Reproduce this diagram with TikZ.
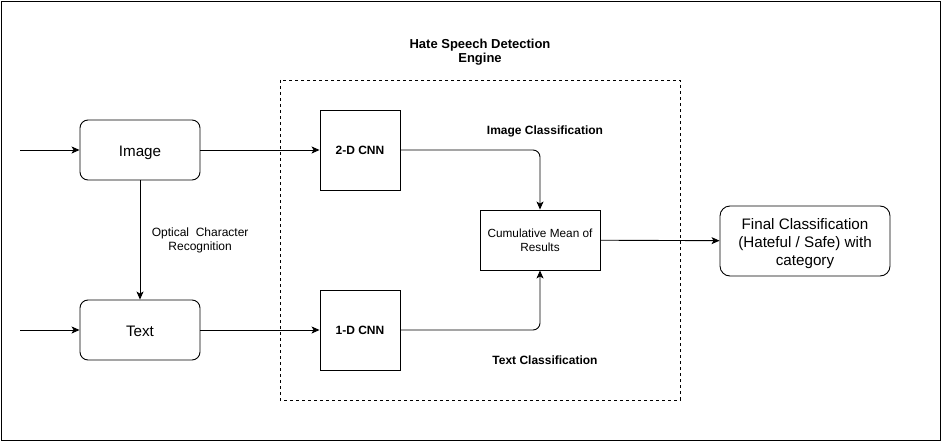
\documentclass[tikz,border=0pt]{standalone}
\usepackage{fontspec}
\setmainfont{Liberation Sans}
\usetikzlibrary{arrows.meta, positioning}

\tikzset{
  inbox/.style={draw, rounded corners=8pt, minimum width=120pt, minimum height=60pt,
    text height=15.5pt, text depth=3pt, font=\fontsize{15.2}{18}\selectfont},
  cnnbox/.style={draw, minimum width=80pt, minimum height=80pt,
    font=\fontsize{12}{14}\selectfont\bfseries},
  meanbox/.style={draw, minimum width=120pt, minimum height=60pt, align=center,
    font=\fontsize{11.8}{14}\selectfont},
  outbox/.style={draw, rounded corners=10pt, minimum width=170pt, minimum height=70pt,
    text height=53pt, align=center, font=\fontsize{15.2}{18}\selectfont},
  flow/.style={-{Stealth[length=8pt,width=7pt,inset=2pt]}, line width=0.9pt},
  lbl/.style={font=\fontsize{12}{14}\selectfont\bfseries, align=center},
}

\begin{document}
\begin{tikzpicture}[x=1pt,y=-1pt,line width=0.9pt]
      \useasboundingbox (0,0) rectangle (941,441);
      \draw (1,1) rectangle (940,440);
      % engine frame
      \draw[dashed, line width=0.7pt, dash pattern=on 3pt off 3pt] (280,80) rectangle (680,400);
      \node[lbl, font=\fontsize{13}{14}\selectfont\bfseries] (title) at (480,52) {Hate Speech Detection\\Engine};
      % inputs
      \node[inbox] (image) at (140,150) {Image};
      \node[inbox] (text) at (140,330) {Text};
      \coordinate (imgin) at (20,150);
      \coordinate (txtin) at (20,330);
      % networks
      \node[cnnbox] (cnn2) at (360,150) {2-D CNN};
      \node[cnnbox] (cnn1) at (360,330) {1-D CNN};
      \node[meanbox] (mean) at (540,240) {Cumulative Mean of\\Results};
      \node[outbox] (final) at (805,241) {Final Classification\\(Hateful / Safe) with\\category};
      % connectors
      \draw[flow] (imgin) -- (image);
      \draw[flow] (txtin) -- (text);
      \draw[flow] (image) -- node[right=8pt, align=center, font=\fontsize{12}{14}\selectfont]
        {Optical\ \ Character\\Recognition} (text);
      \draw[flow] (image) -- (cnn2);
      \draw[flow] (text) -- (cnn1);
      \draw[flow, rounded corners=7pt] (cnn2.east) -| (mean.north);
      \draw[flow, rounded corners=7pt] (cnn1.east) -| (mean.south);
      \draw[flow] (mean) -- (final);
      \node[lbl] (imgcls) at (545,131) {Image Classification};
      \node[lbl] (txtcls) at (545,360) {Text Classification};
    \end{tikzpicture}
\end{document}
